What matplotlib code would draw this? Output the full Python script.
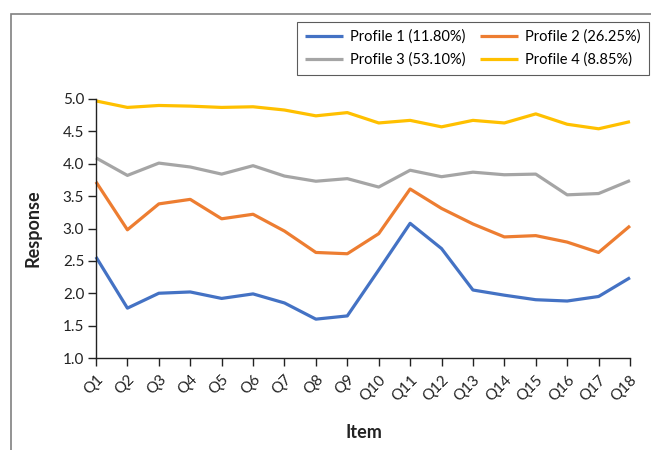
import matplotlib
matplotlib.use('Agg')
import matplotlib.pyplot as plt
import matplotlib.patches as mpatches
import numpy as np

plt.rcParams['font.family'] = ['Lato', 'DejaVu Sans']

items = [f'Q{i}' for i in range(1, 19)]

profile1 = [2.56, 1.77, 2.00, 2.02, 1.92, 1.99, 1.85, 1.60, 1.65,
            2.36, 3.08, 2.69, 2.05, 1.97, 1.90, 1.88, 1.95, 2.24]
profile2 = [3.72, 2.98, 3.38, 3.45, 3.15, 3.22, 2.96, 2.63, 2.61,
            2.92, 3.61, 3.31, 3.07, 2.87, 2.89, 2.79, 2.63, 3.04]
profile3 = [4.09, 3.82, 4.01, 3.95, 3.84, 3.97, 3.81, 3.73, 3.77,
            3.64, 3.90, 3.80, 3.87, 3.83, 3.84, 3.52, 3.54, 3.74]
profile4 = [4.97, 4.87, 4.90, 4.89, 4.87, 4.88, 4.83, 4.74, 4.79,
            4.63, 4.67, 4.57, 4.67, 4.63, 4.77, 4.61, 4.54, 4.65]

labels = ['Profile 1 (11.80%)', 'Profile 2 (26.25%)',
          'Profile 3 (53.10%)', 'Profile 4 (8.85%)']
colors = ['#4472C4', '#ED7D31', '#A5A5A5', '#FFC000']
yticks = [1.0, 1.5, 2.0, 2.5, 3.0, 3.5, 4.0, 4.5, 5.0]

fig = plt.figure(figsize=(6.51, 4.5), dpi=100)
ax = fig.add_axes([96 / 651, 1 - 358 / 450, (630 - 96) / 651, (358 - 99) / 450])

x = np.arange(len(items))
for ys, c, lab in zip([profile1, profile2, profile3, profile4], colors, labels):
    ax.plot(x, ys, color=c, lw=2.3, label=lab, solid_capstyle='butt', clip_on=False)

ax.set_xlim(0, len(items) - 1)
ax.set_ylim(1, 5)
ax.set_xticks(x)
ax.set_xticklabels(items, rotation=45, ha='right', rotation_mode='anchor', fontsize=11, color='#222')
ax.set_yticks(yticks)
ax.set_yticklabels([f'{v:.1f}' for v in yticks], fontsize=11, color='#222')
ax.tick_params(direction='out', length=5.5, width=1, color='#222', pad=3)
ax.tick_params(axis='x', pad=5)
for s in ['top', 'right']:
    ax.spines[s].set_visible(False)
for s in ['left', 'bottom']:
    ax.spines[s].set_color('#222')
    ax.spines[s].set_linewidth(1)

ax.set_xlabel('Item', fontsize=13, fontweight='bold', color='#222', va='center')
ax.set_ylabel('Response', fontsize=13, fontweight='bold', color='#222', va='center')
ax.xaxis.set_label_coords(0.502, -0.286)
ax.yaxis.set_label_coords(-0.118, 0.502)

# ordering so legend rows read P1 P2 / P3 P4
handles, labs = ax.get_legend_handles_labels()
order = [0, 2, 1, 3]
leg = fig.legend([handles[i] for i in order], [labs[i] for i in order],
                 ncol=2, loc='upper right', bbox_to_anchor=(649 / 651, 1 - 21.5 / 450),
                 bbox_transform=fig.transFigure, fontsize=10.5, frameon=True,
                 fancybox=False, edgecolor='#333', handlelength=2.6, handletextpad=0.5,
                 columnspacing=1.0, borderpad=0.55, labelspacing=0.6, borderaxespad=0)
leg.get_frame().set_linewidth(0.8)

# outer chart frame (cut by the image edge on right and bottom)
fig.patches.append(mpatches.Rectangle((11 / 651, -0.1), 1.2, 1.1 - 14 / 450,
                                      transform=fig.transFigure, fill=False,
                                      edgecolor='#808080', lw=1.2))

fig.savefig('out.png', dpi=100)
